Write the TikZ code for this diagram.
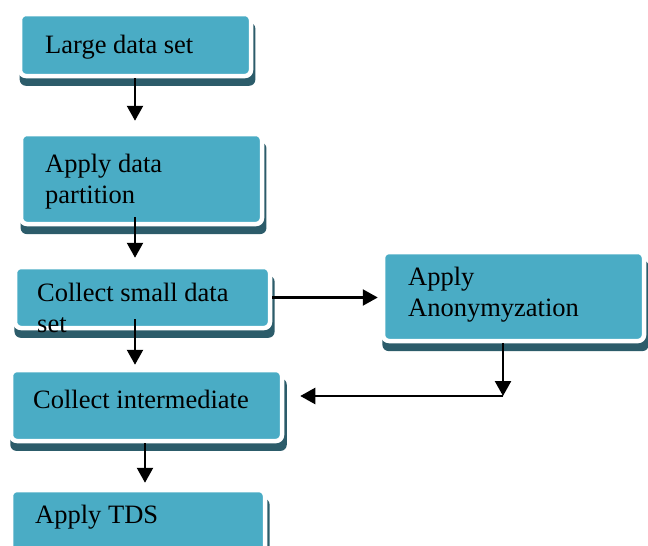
\documentclass[tikz,border=0pt]{standalone}
\usepackage{fontspec}
\setmainfont{Liberation Serif}
\usetikzlibrary{arrows.meta, shadows, calc}
\definecolor{boxfill}{RGB}{74,172,197}
\definecolor{boxshadow}{RGB}{44,92,106}
\tikzstyle{box} = [rectangle, rounded corners=6pt, fill=boxfill, draw=white, line width=4.5pt,
  drop shadow={shadow xshift=2pt, shadow yshift=-9pt, shadow scale=1.02, opacity=1, fill=boxshadow}]
\tikzstyle{txt} = [anchor=base west, inner sep=0pt, align=left, font=\fontsize{26.5}{31}\selectfont]
\tikzstyle{arrow} = [line width=2.4pt, -{Triangle[length=15pt,width=16pt]}]

\begin{document}
\begin{tikzpicture}[x=1pt, y=-1pt]
    \useasboundingbox (0,0) rectangle (648,546);
    % Cajas
    \node (large)  [box, minimum width=231pt, minimum height=62pt] at (135.5,45) {};
    \node (part)   [box, minimum width=241pt, minimum height=90pt] at (141.5,179) {};
    \node (small)  [box, minimum width=255pt, minimum height=61pt] at (142.5,297.5) {};
    \node (anon)   [box, minimum width=261pt, minimum height=89pt] at (513.5,296.5) {};
    \node (inter)  [box, minimum width=271pt, minimum height=71pt] at (146.5,405.5) {};
    \node (tds)    [box, minimum width=254pt, minimum height=70pt] at (138,525) {};
    % Textos (base = ultima linea)
    \node (largetxt) [txt] at (45,53)  {Large data set};
    \node (parttxt)  [txt] at (45,203) {Apply data\\partition};
    \node (smalltxt) [txt] at (37,332) {Collect small data\\set};
    \node (anontxt)  [txt] at (408,316) {Apply\\Anonymyzation};
    \node (intertxt) [txt] at (33,408) {Collect intermediate};
    \node (tdstxt)   [txt] at (35,523) {Apply TDS};

    \coordinate (bend) at (503,396);

    \draw [arrow, shorten >=11pt] ([xshift=-0.5pt]large.south) -- ([xshift=-0.5pt]large.south |- part.north);
    \draw [arrow, shorten >=7pt] ([xshift=-6.5pt,yshift=9pt]part.south) -- ([xshift=-6.5pt]part.south |- small.north);
    \draw [arrow, shorten >=3pt] ([xshift=-7.5pt,yshift=11pt]small.south) -- ([xshift=-7.5pt]small.south |- inter.north);
    \draw [arrow, shorten >=3pt] (small.east) -- (small.east -| anon.west);
    \draw [arrow] ([xshift=-10.5pt]anon.south) -- (bend);
    \draw [arrow, shorten >=16pt] (bend) -- (bend -| inter.east);
    \draw [arrow, shorten >=5pt] ([xshift=-1.5pt]inter.south) -- ([xshift=-1.5pt]inter.south |- tds.north);
\end{tikzpicture}
\end{document}
